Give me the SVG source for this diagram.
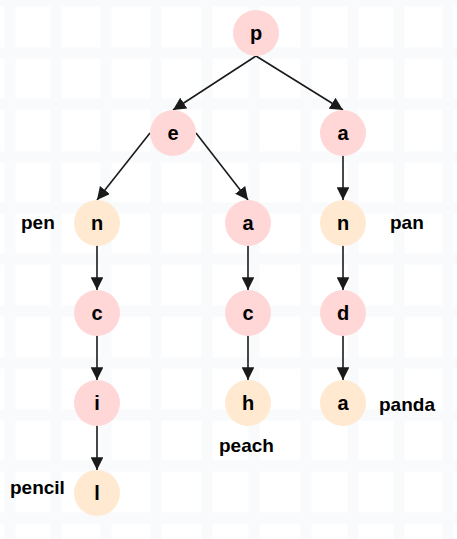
<svg xmlns="http://www.w3.org/2000/svg" width="457" height="539" viewBox="0 0 457 539">
<defs>
<style>
.grid line{stroke:#f8fafb;stroke-width:11}
.pink{fill:#ffd7d7}
.tan{fill:#ffe9d0}
.lt{font-family:"Liberation Sans",Arial,sans-serif;font-size:20px;font-weight:bold;fill:#000;text-anchor:middle}
.lbl{font-family:"Liberation Sans",Arial,sans-serif;font-size:19px;font-weight:bold;fill:#000}
.edges line{stroke:#1a1a1a;stroke-width:1.6;marker-end:url(#ah)}
</style>
<marker id="ah" viewBox="0 0 10 10" refX="10" refY="5" markerWidth="8" markerHeight="8" orient="auto" markerUnits="strokeWidth">
<path d="M0,0 L10,5 L0,10 z" fill="#1a1a1a"/>
</marker>
</defs>
<rect width="457" height="539" fill="#ffffff"/>
<g class="grid">
<line x1="10" y1="0" x2="10" y2="539"/>
<line x1="56" y1="0" x2="56" y2="539"/>
<line x1="106" y1="0" x2="106" y2="539"/>
<line x1="156" y1="0" x2="156" y2="539"/>
<line x1="207" y1="0" x2="207" y2="539"/>
<line x1="254" y1="0" x2="254" y2="539"/>
<line x1="306" y1="0" x2="306" y2="539"/>
<line x1="353" y1="0" x2="353" y2="539"/>
<line x1="399" y1="0" x2="399" y2="539"/>
<line x1="448" y1="0" x2="448" y2="539"/>
<line x1="0" y1="1" x2="457" y2="1"/>
<line x1="0" y1="53" x2="457" y2="53"/>
<line x1="0" y1="104" x2="457" y2="104"/>
<line x1="0" y1="157" x2="457" y2="157"/>
<line x1="0" y1="208" x2="457" y2="208"/>
<line x1="0" y1="259" x2="457" y2="259"/>
<line x1="0" y1="311" x2="457" y2="311"/>
<line x1="0" y1="363" x2="457" y2="363"/>
<line x1="0" y1="415" x2="457" y2="415"/>
<line x1="0" y1="466" x2="457" y2="466"/>
<line x1="0" y1="518" x2="457" y2="518"/>
</g>
<g class="edges">
<line x1="256" y1="56" x2="173" y2="110"/>
<line x1="256" y1="56" x2="343" y2="110"/>
<line x1="150" y1="133" x2="97" y2="200"/>
<line x1="196" y1="133" x2="248" y2="200"/>
<line x1="97" y1="245" x2="97" y2="290"/>
<line x1="97" y1="335" x2="97" y2="380"/>
<line x1="97" y1="425" x2="97" y2="470"/>
<line x1="248" y1="245" x2="248" y2="290"/>
<line x1="248" y1="335" x2="248" y2="380"/>
<line x1="343" y1="155" x2="343" y2="200"/>
<line x1="343" y1="245" x2="343" y2="290"/>
<line x1="343" y1="335" x2="343" y2="380"/>
</g>
<g id="node-p"><circle class="pink" cx="256" cy="33" r="23"/><text class="lt" x="256" y="40">p</text></g>
<g id="node-e"><circle class="pink" cx="173" cy="133" r="23"/><text class="lt" x="173" y="140">e</text></g>
<g id="node-a1"><circle class="pink" cx="343" cy="133" r="23"/><text class="lt" x="343" y="140">a</text></g>
<g id="node-n1"><circle class="tan" cx="97" cy="223" r="23"/><text class="lt" x="97" y="230">n</text></g>
<g id="node-c1"><circle class="pink" cx="97" cy="313" r="23"/><text class="lt" x="97" y="320">c</text></g>
<g id="node-i"><circle class="pink" cx="97" cy="403" r="23"/><text class="lt" x="97" y="410">i</text></g>
<g id="node-l"><circle class="tan" cx="97" cy="493" r="23"/><text class="lt" x="97" y="500">l</text></g>
<g id="node-a2"><circle class="pink" cx="248" cy="223" r="23"/><text class="lt" x="248" y="230">a</text></g>
<g id="node-c2"><circle class="pink" cx="248" cy="313" r="23"/><text class="lt" x="248" y="320">c</text></g>
<g id="node-h"><circle class="tan" cx="248" cy="403" r="23"/><text class="lt" x="248" y="410">h</text></g>
<g id="node-n2"><circle class="tan" cx="343" cy="223" r="23"/><text class="lt" x="343" y="230">n</text></g>
<g id="node-d"><circle class="pink" cx="343" cy="313" r="23"/><text class="lt" x="343" y="320">d</text></g>
<g id="node-a3"><circle class="tan" cx="343" cy="403" r="23"/><text class="lt" x="343" y="410">a</text></g>
<g id="labels">
<text class="lbl" x="21" y="229">pen</text>
<text class="lbl" x="390" y="229">pan</text>
<text class="lbl" x="379" y="411">panda</text>
<text class="lbl" x="219" y="452">peach</text>
<text class="lbl" x="10" y="494">pencil</text>
</g>
</svg>
